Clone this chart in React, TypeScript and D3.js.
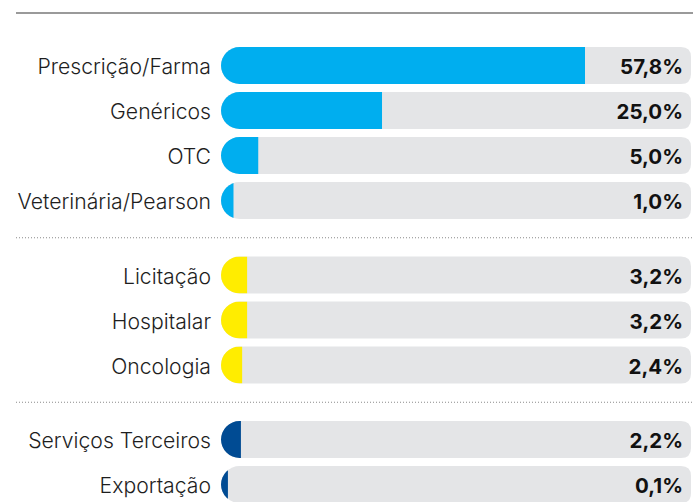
import React from "react";
import * as d3 from "d3";

const categories = [
  "Prescrição/Farma",
  "Genéricos",
  "OTC",
  "Veterinária/Pearson",
  "Licitação",
  "Hospitalar",
  "Oncologia",
  "Serviços Terceiros",
  "Exportação",
];
const values = [57.8, 25.0, 5.0, 1.0, 3.2, 3.2, 2.4, 2.2, 0.1];
const valueLabels = ["57,8%", "25,0%", "5,0%", "1,0%", "3,2%", "3,2%", "2,4%", "2,2%", "0,1%"];
const groups = [0, 0, 0, 0, 1, 1, 1, 2, 2];
const groupColors = ["#00AEEF", "#FFED00", "#004B93"];

const W = 693;
const H = 502;
const trackX0 = 221;
const trackX1 = 691;
const barH = 37;
const pitch = 45;
const groupGap = 29.5;
const firstCenter = 65.5;

function trackPath(x0: number, x1: number, yTop: number, h: number) {
  const rl = h / 2;
  const rr = 10;
  const y1 = yTop + h;
  return `M${x0 + rl},${yTop} L${x1 - rr},${yTop} Q${x1},${yTop} ${x1},${yTop + rr} L${x1},${y1 - rr} Q${x1},${y1} ${x1 - rr},${y1} L${x0 + rl},${y1} A${rl},${rl} 0 0 1 ${x0 + rl},${yTop} Z`;
}

export default function App() {
  const x = d3.scaleLinear().domain([0, 57.8]).range([6.3, 364]);
  const centers = categories.map((_, i) => firstCenter + i * pitch + groups[i] * groupGap);
  const seps = [3, 6].map((i) => (centers[i] + centers[i + 1]) / 2);
  const font = "Inter, 'Noto Sans', sans-serif";

  return (
    <svg width={W} height={H} style={{ position: "absolute", left: 0, top: 0 }}>
      <line x1={16} x2={W} y1={13} y2={13} stroke="#9a9a9a" strokeWidth={2} />
      {seps.map((y, i) => (
        <line key={i} x1={16} x2={W} y1={y} y2={y} stroke="#8a8a8a" strokeWidth={1} strokeDasharray="1,2" />
      ))}
      <defs>
        {categories.map((_, i) => (
          <clipPath id={`clip${i}`} key={i}>
            <path d={trackPath(trackX0, trackX1, centers[i] - barH / 2, barH)} />
          </clipPath>
        ))}
      </defs>
      {categories.map((c, i) => {
        const yTop = centers[i] - barH / 2;
        return (
          <g key={c}>
            <path d={trackPath(trackX0, trackX1, yTop, barH)} fill="#E4E5E7" />
            <rect
              x={trackX0}
              y={yTop}
              width={x(values[i])}
              height={barH}
              fill={groupColors[groups[i]]}
              clipPath={`url(#clip${i})`}
            />
            <text
              x={211}
              y={centers[i] + 1.5}
              dy="0.35em"
              textAnchor="end"
              fontFamily={font}
              fontSize={21.2}
              fontWeight={350}
              fill="#1e1e1e"
            >
              {c}
            </text>
            <text
              x={683}
              y={centers[i] + 1.5}
              dy="0.35em"
              textAnchor="end"
              fontFamily={font}
              fontSize={20.5}
              fontWeight="bold"
              fill="#111"
            >
              {valueLabels[i]}
            </text>
          </g>
        );
      })}
    </svg>
  );
}
